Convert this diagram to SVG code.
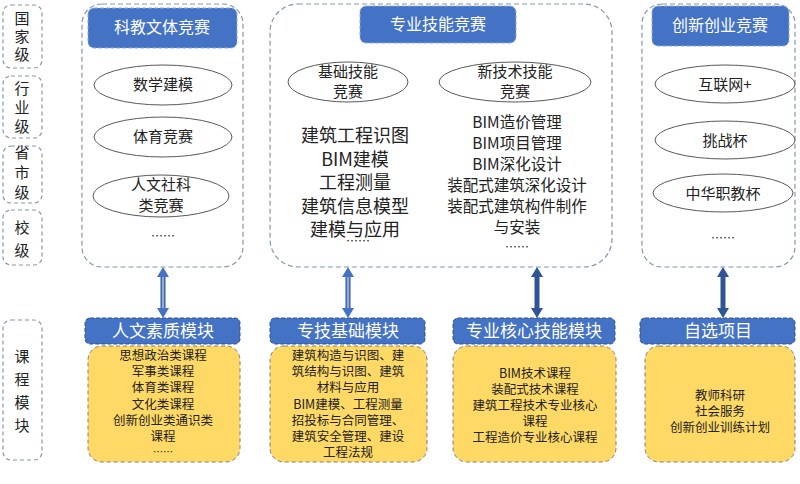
<svg xmlns="http://www.w3.org/2000/svg" width="800" height="484" viewBox="0 0 800 484">
<style>
text{font-family:"Noto Sans CJK SC","Noto Sans",sans-serif;text-anchor:middle;fill:#222}
.lv{fill:#fff;stroke:#8496b0;stroke-width:1.2;stroke-dasharray:4 3}
.ct{fill:#fff;stroke:#8496b0;stroke-width:1.2;stroke-dasharray:5 3}
.hd{fill:#4472c4;stroke:#8faadc;stroke-dasharray:4 2}
.hd2{fill:#4472c4;stroke:#2f528f;stroke-dasharray:4 2}
.ht{fill:#fff;font-size:16px}
.mt{fill:#fff;font-size:17px}
.el{fill:#fff;stroke:#595959;stroke-width:1}
.yb{fill:#ffd966;stroke:#7f7f7f;stroke-dasharray:4 3}
.f15{font-size:15px}
.f13{font-size:12.5px}
.ar{stroke:#2f5597;stroke-width:5;fill:none}
.ai{stroke:#8faadc;stroke-width:2.5;fill:none}
</style>
<g id="levels">
<rect class="lv" x="3" y="5" width="39" height="63" rx="8"/>
<text x="22" y="24" font-size="15">国</text><text x="22" y="42" font-size="15">家</text><text x="22" y="60" font-size="15">级</text>
<rect class="lv" x="3" y="76" width="39" height="62" rx="8"/>
<text x="22" y="94" font-size="15">行</text><text x="22" y="113" font-size="15">业</text><text x="22" y="132" font-size="15">级</text>
<rect class="lv" x="3" y="146" width="39" height="57" rx="8"/>
<text x="22" y="158" font-size="15">省</text><text x="22" y="178" font-size="15">市</text><text x="22" y="198" font-size="15">级</text>
<rect class="lv" x="3" y="210" width="39" height="55" rx="8"/>
<text x="22" y="233" font-size="15">校</text><text x="22" y="256" font-size="15">级</text>
<rect class="lv" x="3" y="320" width="39" height="140" rx="8"/>
<text x="22" y="362" font-size="15">课</text><text x="22" y="385" font-size="15">程</text><text x="22" y="408" font-size="15">模</text><text x="22" y="431" font-size="15">块</text>
</g>
<g id="comp1">
<rect class="ct" x="82" y="4" width="161" height="263" rx="20"/>
<rect class="hd" x="88" y="8" width="149" height="40" rx="6"/>
<text class="ht" x="162" y="33">科教文体竞赛</text>
<ellipse class="el" cx="163" cy="85" rx="69" ry="20"/><text class="f15" x="163" y="90">数学建模</text>
<ellipse class="el" cx="163" cy="137" rx="69" ry="20"/><text class="f15" x="163" y="142">体育竞赛</text>
<ellipse class="el" cx="161" cy="196" rx="68" ry="21"/><text class="f15" x="161" y="190">人文社科</text><text class="f15" x="161" y="211">类竞赛</text>
<text font-size="12" x="163" y="241">……</text>
</g>
<g id="comp2">
<rect class="ct" x="270" y="4" width="342" height="263" rx="28"/>
<rect class="hd" x="360" y="6" width="156" height="37" rx="6"/>
<text class="ht" x="438" y="30">专业技能竞赛</text>
<ellipse class="el" cx="348" cy="82" rx="60" ry="20"/><text class="f15" x="348" y="77">基础技能</text><text class="f15" x="348" y="97">竞赛</text>
<ellipse class="el" cx="515" cy="82" rx="76" ry="20"/><text class="f15" x="515" y="77">新技术技能</text><text class="f15" x="515" y="97">竞赛</text>
<g font-size="18"><text x="355" y="142">建筑工程识图</text><text x="355" y="166">BIM建模</text><text x="355" y="189">工程测量</text><text x="355" y="213">建筑信息模型</text><text x="355" y="236">建模与应用</text></g>
<g font-size="15.5"><text x="517" y="128">BIM造价管理</text><text x="517" y="149">BIM项目管理</text><text x="517" y="170">BIM深化设计</text><text x="517" y="191">装配式建筑深化设计</text><text x="517" y="212">装配式建筑构件制作</text><text x="517" y="233">与安装</text></g>
<text font-size="12" x="358" y="246">……</text>
<text font-size="12" x="517" y="252">……</text>
</g>
<g id="comp3">
<rect class="ct" x="642" y="4" width="153" height="263" rx="20"/>
<rect class="hd" x="652" y="6" width="137" height="40" rx="6"/>
<text class="ht" x="720" y="31">创新创业竞赛</text>
<ellipse class="el" cx="725" cy="84" rx="70" ry="19"/><text class="f15" x="725" y="90">互联网+</text>
<ellipse class="el" cx="725" cy="140" rx="70" ry="19"/><text class="f15" x="725" y="146">挑战杯</text>
<ellipse class="el" cx="723" cy="193" rx="70" ry="19"/><text class="f15" x="723" y="199">中华职教杯</text>
<text font-size="12" x="723" y="243">……</text>
</g>
<g id="connectors">
<g><path class="ar" d="M163 275V310"/><path class="ai" d="M163 275V310"/><path d="M157 277L163 267L169 277Z M157 308L163 318L169 308Z" fill="#4472c4"/></g>
<g><path class="ar" d="M348 275V310"/><path class="ai" d="M348 275V310"/><path d="M342 277L348 267L354 277Z M342 308L348 318L354 308Z" fill="#4472c4"/></g>
<g><path class="ar" d="M537 275V310" stroke="#2f5597"/><path d="M531 277L537 267L543 277Z M531 308L537 318L543 308Z" fill="#2f5597"/></g>
<g><path class="ar" d="M723 275V310"/><path d="M717 277L723 267L729 277Z M717 308L723 318L729 308Z" fill="#2f5597"/></g>
</g>
<g id="mod1">
<rect class="hd2" x="85" y="318" width="155" height="26" rx="5"/><text class="mt" x="163" y="337">人文素质模块</text>
<rect class="yb" x="88" y="346" width="152" height="116" rx="14"/>
<g class="f13"><text x="163" y="360">思想政治类课程</text><text x="163" y="376">军事类课程</text><text x="163" y="392">体育类课程</text><text x="163" y="409">文化类课程</text><text x="163" y="425">创新创业类通识类</text><text x="163" y="441">课程</text><text x="163" y="456" font-size="10">……</text></g>
</g>
<g id="mod2">
<rect class="hd2" x="270" y="318" width="155" height="26" rx="5"/><text class="mt" x="348" y="337">专技基础模块</text>
<rect class="yb" x="270" y="346" width="157" height="116" rx="14"/>
<g class="f13"><text x="348" y="360">建筑构造与识图、建</text><text x="348" y="376">筑结构与识图、建筑</text><text x="348" y="392">材料与应用</text><text x="348" y="409">BIM建模、工程测量</text><text x="348" y="425">招投标与合同管理、</text><text x="348" y="441">建筑安全管理、建设</text><text x="348" y="457">工程法规</text></g>
</g>
<g id="mod3">
<rect class="hd2" x="453" y="318" width="162" height="26" rx="5"/><text class="mt" x="534" y="337">专业核心技能模块</text>
<rect class="yb" x="453" y="346" width="163" height="116" rx="14"/>
<g class="f13"><text x="535" y="378">BIM技术课程</text><text x="535" y="394">装配式技术课程</text><text x="535" y="410">建筑工程技术专业核心</text><text x="535" y="426">课程</text><text x="535" y="442">工程造价专业核心课程</text></g>
</g>
<g id="mod4">
<rect class="hd2" x="640" y="318" width="155" height="26" rx="5"/><text class="mt" x="718" y="337">自选项目</text>
<rect class="yb" x="645" y="346" width="150" height="116" rx="14"/>
<g class="f13"><text x="720" y="400">教师科研</text><text x="720" y="416">社会服务</text><text x="720" y="432">创新创业训练计划</text></g>
</g>
</svg>
